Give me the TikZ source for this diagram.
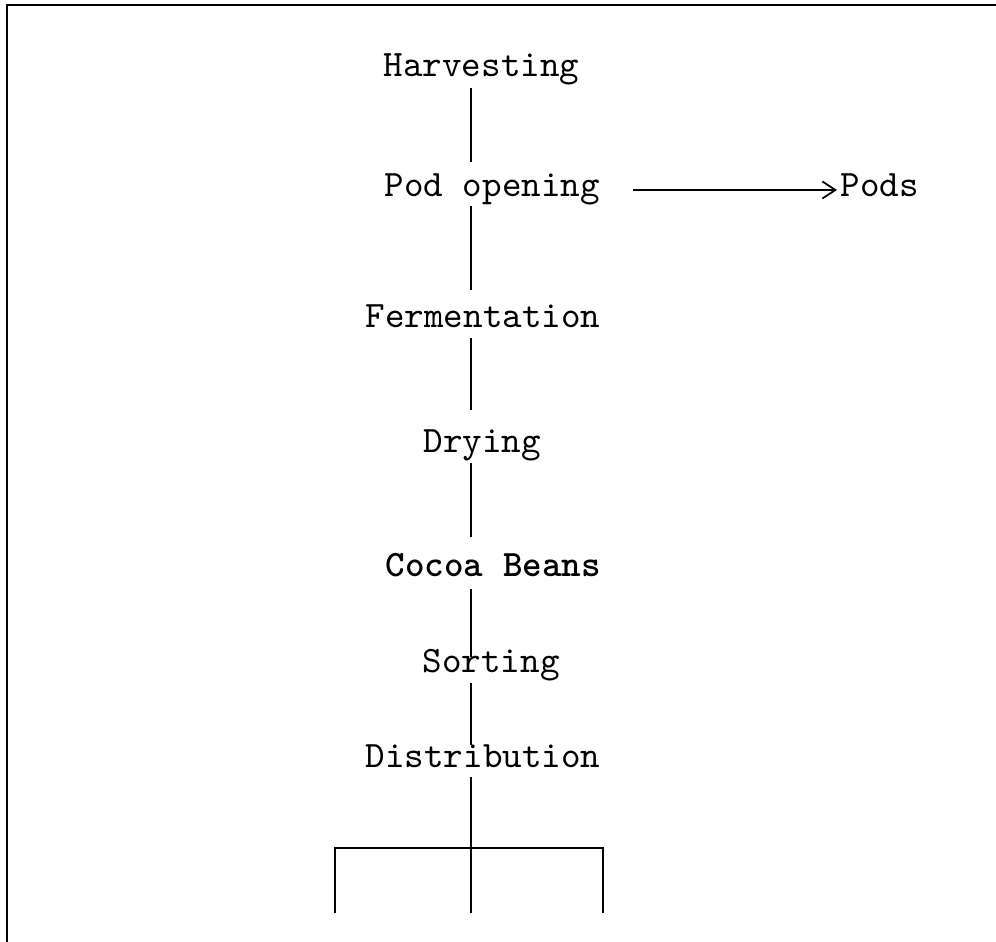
\documentclass[tikz,border=0pt]{standalone}
\usetikzlibrary{arrows.meta}

\tikzset{
  stage/.style={anchor=base west,inner sep=0pt,font=\ttfamily\fontsize{10.6pt}{12pt}\selectfont},
  link/.style={line width=0.6pt}
}

\begin{document}
\begin{tikzpicture}
                    \useasboundingbox (0,0) rectangle (9.96,-9.42);
                    % frame
                    \draw[line width=0.8pt] (0.07,-9.42) -- (0.07,-0.05) -- (9.96,-0.05);

                    % stages
                    \node[stage] (harv) at (3.83,-0.77) {Harvesting};
                    \node[stage] (pod) at (3.84,-1.97) {Pod opening};
                    \node[stage] (ferm) at (3.65,-3.28) {Fermentation};
                    \node[stage] (dry) at (4.23,-4.53) {Drying};
                    \node[stage,font=\ttfamily\bfseries\fontsize{10.6pt}{12pt}\selectfont] (beans) at (3.85,-5.77) {Cocoa Beans};
                    \node[stage] (sort) at (4.22,-6.72) {Sorting};
                    \node[stage] (dist) at (3.65,-7.67) {Distribution};
                    \node[stage] (pods) at (8.40,-1.97) {Pods};

                    % spine and outlets
                    \coordinate (spine) at (4.71,0);
                    \coordinate (bus) at (4.71,-8.48);
                    \coordinate (busL) at (3.35,-8.48);
                    \coordinate (busR) at (6.03,-8.48);
                    \coordinate (outL) at (3.35,-9.13);
                    \coordinate (outM) at (4.71,-9.13);
                    \coordinate (outR) at (6.03,-9.13);

                    % links
                    \draw[link] ([yshift=-0.11cm]harv.base -| spine) -- ([yshift=0.35cm]pod.base -| spine);
                    \draw[link] ([yshift=-0.09cm]pod.base -| spine) -- ([yshift=0.38cm]ferm.base -| spine);
                    \draw[link] ([yshift=-0.10cm]ferm.base -| spine) -- ([yshift=0.43cm]dry.base -| spine);
                    \draw[link] ([yshift=-0.10cm]dry.base -| spine) -- ([yshift=0.40cm]beans.base -| spine);
                    \draw[link] ([yshift=-0.12cm]beans.base -| spine) -- ([yshift=0.15cm]sort.base -| spine);
                    \draw[link] ([yshift=-0.11cm]sort.base -| spine) -- ([yshift=0.22cm]dist.base -| spine);
                    \draw[link] ([yshift=-0.10cm]dist.base -| spine) -- (bus);
                    \draw[link] (outL) -- (busL) -- (busR) -- (outR);
                    \draw[link] (bus) -- (outM);
                    \draw[line width=0.5pt,-{Straight Barb[length=0.13cm,width=0.17cm]},shorten >=0.03cm]
                        (pod.base east -| 6.33,0) ++(0,0.07) -- ([yshift=0.07cm]pods.base west);
                \end{tikzpicture}
\end{document}
